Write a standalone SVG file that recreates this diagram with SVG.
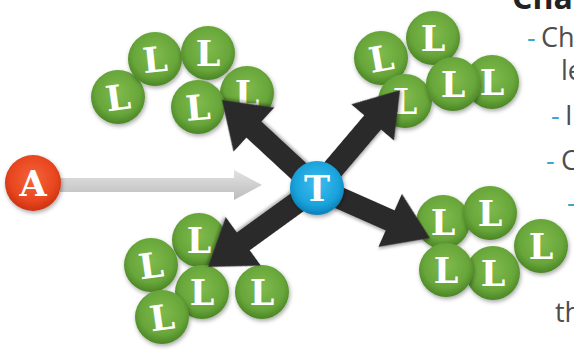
<svg xmlns="http://www.w3.org/2000/svg" width="574" height="352" viewBox="0 0 574 352">
<style>
.lt{font-family:"DejaVu Serif","Liberation Serif",serif;font-weight:bold;font-size:35px;fill:#fff;text-anchor:middle}
.gball{fill:url(#gGreen);filter:url(#sh)}
.tx{font-family:"Open Sans","Noto Sans",sans-serif;font-size:27px;fill:#4d4d4d}
.ds{font-family:"Open Sans","Noto Sans",sans-serif;font-size:27px;fill:#3aa7cf}
.dark{fill:#2c2c2c;filter:url(#sh2)}
</style>
<defs>
<radialGradient id="gGreen" cx="50%" cy="42%" r="58%">
<stop offset="0" stop-color="#7fba4c"/><stop offset="0.7" stop-color="#68a63a"/><stop offset="1" stop-color="#4b8526"/>
</radialGradient>
<radialGradient id="gRed" cx="50%" cy="42%" r="58%">
<stop offset="0" stop-color="#f5643a"/><stop offset="0.7" stop-color="#e8461f"/><stop offset="1" stop-color="#c93212"/>
</radialGradient>
<radialGradient id="gBlue" cx="50%" cy="42%" r="58%">
<stop offset="0" stop-color="#3fbdf0"/><stop offset="0.7" stop-color="#1aa3dc"/><stop offset="1" stop-color="#0b7fb8"/>
</radialGradient>
<linearGradient id="gGray" x1="0" y1="0" x2="0" y2="1">
<stop offset="0" stop-color="#e2e2e2"/><stop offset="1" stop-color="#bdbdbd"/>
</linearGradient>
<filter id="sh" x="-30%" y="-30%" width="160%" height="160%">
<feDropShadow dx="1" dy="2" stdDeviation="2" flood-color="#000" flood-opacity="0.35"/>
</filter>
<filter id="sh2" x="-20%" y="-20%" width="140%" height="140%">
<feDropShadow dx="1" dy="2" stdDeviation="1.5" flood-color="#000" flood-opacity="0.3"/>
</filter>
</defs>
<rect width="574" height="352" fill="#fff"/>

<!-- text at right -->
<g id="notes">
<text x="512" y="9" style="font-family:'Open Sans','Noto Sans',sans-serif;font-size:32px;font-weight:bold;fill:#222">Cha</text>
<text x="527" y="47" class="ds">-</text><text x="541" y="47" class="tx">Ch</text>
<text x="561" y="80" class="tx">le</text>
<text x="551" y="125" class="ds">-</text><text x="565" y="125" class="tx">I</text>
<text x="546" y="170" class="ds">-</text><text x="561" y="170" class="tx">C</text>
<text x="567" y="212" class="ds">-</text>
<text x="555" y="322" class="tx">th</text>
</g>

<!-- top-left cluster -->
<g id="L1"><circle class="gball" cx="118" cy="97" r="27"/><text class="lt" x="118" y="110" transform="rotate(-8 118 97)">L</text></g>
<g id="L2"><circle class="gball" cx="155" cy="59" r="27"/><text class="lt" x="155" y="72" transform="rotate(-6 155 59)">L</text></g>
<g id="L3"><circle class="gball" cx="208" cy="53" r="27"/><text class="lt" x="208" y="66">L</text></g>
<g id="L4"><circle class="gball" cx="247" cy="93" r="27"/><text class="lt" x="247" y="106">L</text></g>
<g id="L5"><circle class="gball" cx="198" cy="107" r="27"/><text class="lt" x="198" y="120" transform="rotate(-5 198 107)">L</text></g>

<!-- top-right cluster -->
<g id="L6"><circle class="gball" cx="381" cy="58" r="27"/><text class="lt" x="381" y="71" transform="rotate(-10 381 58)">L</text></g>
<g id="L7"><circle class="gball" cx="433" cy="38" r="27"/><text class="lt" x="433" y="51">L</text></g>
<g id="L8"><circle class="gball" cx="492" cy="82" r="27"/><text class="lt" x="492" y="95">L</text></g>
<g id="L9"><circle class="gball" cx="405" cy="101" r="27"/><text class="lt" x="405" y="114">L</text></g>
<g id="L10"><circle class="gball" cx="453" cy="84" r="27"/><text class="lt" x="453" y="97">L</text></g>

<!-- bottom-left cluster -->
<g id="L11"><circle class="gball" cx="199" cy="240" r="27"/><text class="lt" x="199" y="253">L</text></g>
<g id="L12"><circle class="gball" cx="151" cy="265" r="27"/><text class="lt" x="151" y="278" transform="rotate(-8 151 265)">L</text></g>
<g id="L13"><circle class="gball" cx="262" cy="292" r="27"/><text class="lt" x="262" y="305">L</text></g>
<g id="L14"><circle class="gball" cx="202" cy="292" r="27"/><text class="lt" x="202" y="305">L</text></g>
<g id="L15"><circle class="gball" cx="162" cy="317" r="27"/><text class="lt" x="162" y="330" transform="rotate(-8 162 317)">L</text></g>

<!-- bottom-right cluster -->
<g id="L16"><circle class="gball" cx="541" cy="246" r="27"/><text class="lt" x="541" y="259">L</text></g>
<g id="L17"><circle class="gball" cx="443" cy="222" r="27"/><text class="lt" x="443" y="235">L</text></g>
<g id="L18"><circle class="gball" cx="490" cy="213" r="27"/><text class="lt" x="490" y="226">L</text></g>
<g id="L19"><circle class="gball" cx="493" cy="273" r="27"/><text class="lt" x="493" y="286">L</text></g>
<g id="L20"><circle class="gball" cx="446" cy="270" r="27"/><text class="lt" x="446" y="283">L</text></g>

<!-- connectors -->
<g id="connectors">
<polygon fill="url(#gGray)" points="60,178 234,178 234,170 262,185 234,200 234,192 60,192"/>
<g transform="translate(317,188)">
<polygon class="dark" transform="rotate(-137.2)" points="0,-11 86,-11 86,-30 129.5,0 86,30 86,11 0,11"/>
<polygon class="dark" transform="rotate(-49.7)" points="0,-11 86,-11 86,-28 128.4,0 86,28 86,11 0,11"/>
<polygon class="dark" transform="rotate(144.1)" points="0,-11 91,-11 91,-30 134.6,0 91,30 91,11 0,11"/>
<polygon class="dark" transform="rotate(23.9)" points="0,-11 80,-11 80,-29 123.6,0 80,29 80,11 0,11"/>
</g>
</g>

<g id="A"><circle cx="33" cy="183" r="28" fill="url(#gRed)" filter="url(#sh)"/><text class="lt" x="33" y="196">A</text></g>
<g id="T"><circle cx="317" cy="188" r="27" fill="url(#gBlue)" filter="url(#sh)"/><text class="lt" x="317" y="201">T</text></g>
</svg>
